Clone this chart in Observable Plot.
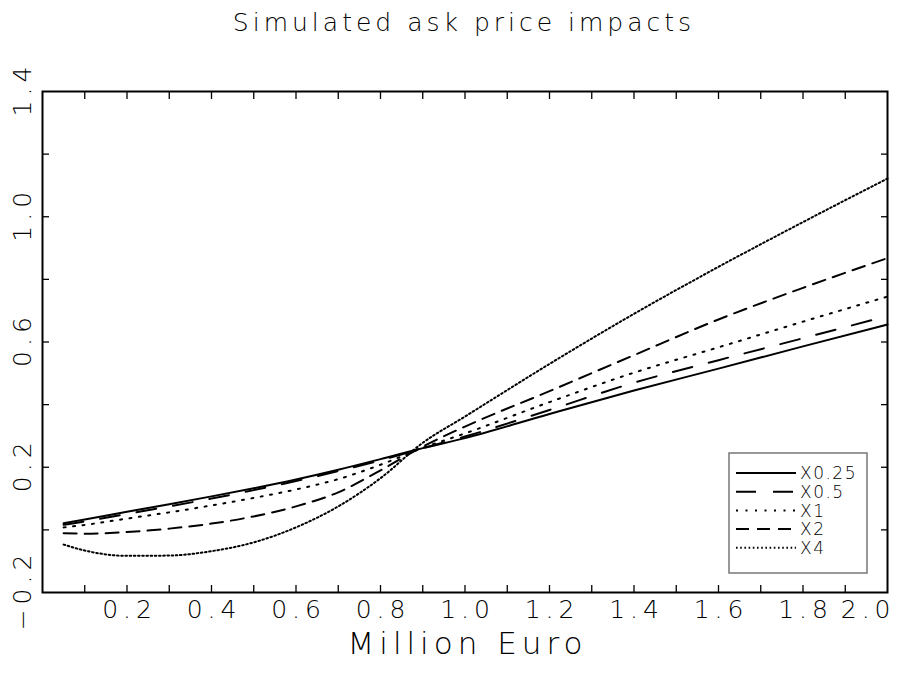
<!DOCTYPE html>
<html>
<head>
<meta charset="utf-8">
<script src="https://cdn.jsdelivr.net/npm/d3@7"></script>
<script src="https://cdn.jsdelivr.net/npm/@observablehq/plot@0.6"></script>
<style>
  body { margin: 0; background: #fff; }
  #wrap { position: relative; width: 914px; height: 683px; font-family: "DejaVu Sans", sans-serif; font-weight: 200; color: #000; }
  #title { position: absolute; left: 0; top: 0; width: 914px; height: 50px; text-align: center; font-size: 25px; line-height: 25px; padding-top: 10px; box-sizing: border-box; letter-spacing: 4px; text-indent: 14px; }
  #chart { position: absolute; left: 0; top: 50px; }
  #legend { position: absolute; left: 0; top: 0; pointer-events: none; }
  .xlab text, .ylab text { letter-spacing: 5px; }
  .xtitle text { letter-spacing: 5px; }
</style>
</head>
<body>
<div id="wrap">
  <div id="title">Simulated ask price impacts</div>
  <div id="chart"></div>
</div>
<script>
// Trade size in million euro
const amounts = [0.05, 0.1, 0.2, 0.3, 0.4, 0.5, 0.6, 0.7, 0.8, 0.9, 1.0, 1.2, 1.4, 1.6, 1.8, 2.0];

// Simulated ask price impact for each scaling of the shock
const impactX025 = [0.021, 0.033, 0.058, 0.082, 0.107, 0.133, 0.161, 0.192, 0.226, 0.261, 0.293, 0.370, 0.445, 0.515, 0.586, 0.656];
const impactX05  = [0.016, 0.027, 0.051, 0.075, 0.100, 0.127, 0.156, 0.188, 0.222, 0.261, 0.298, 0.383, 0.470, 0.542, 0.612, 0.683];
const impactX1   = [0.008, 0.016, 0.036, 0.056, 0.078, 0.102, 0.129, 0.162, 0.208, 0.262, 0.308, 0.408, 0.502, 0.583, 0.665, 0.745];
const impactX2   = [-0.011, -0.012, -0.007, 0.004, 0.020, 0.043, 0.075, 0.120, 0.190, 0.266, 0.330, 0.443, 0.558, 0.672, 0.773, 0.868];
const impactX4   = [-0.047, -0.066, -0.083, -0.082, -0.068, -0.040, 0.008, 0.075, 0.165, 0.278, 0.362, 0.530, 0.690, 0.840, 0.983, 1.122];

const seriesNames = ["X0.25", "X0.5", "X1", "X2", "X4"];
const seriesValues = [impactX025, impactX05, impactX1, impactX2, impactX4];

// Axis ticks and labels
const xMinorTicks = [0.1, 0.2, 0.3, 0.4, 0.5, 0.6, 0.7, 0.8, 0.9, 1.0, 1.1, 1.2, 1.3, 1.4, 1.5, 1.6, 1.7, 1.8, 1.9];
const xTickLabels = [0.2, 0.4, 0.6, 0.8, 1.0, 1.2, 1.4, 1.6, 1.8, 2.0];
const yMinorTicks = [0.0, 0.2, 0.4, 0.6, 0.8, 1.0, 1.2];
const yTickLabels = [-0.2, 0.2, 0.6, 1.0, 1.4];
const xTitle = "Million Euro";

// Line style per series
const dashes = {"X0.25": null, "X0.5": "20,17", "X1": "2,7.5", "X2": "13,8", "X4": "1.6,2.6"};

const rows = seriesNames.flatMap((name, s) =>
  amounts.map((x, i) => ({series: name, x, y: seriesValues[s][i]})));

const fmt = d => (d < 0 ? "\u2212" : "") + Math.abs(d).toFixed(1);
const font = '"DejaVu Sans", sans-serif';
const xMax = xTickLabels[xTickLabels.length - 1];

const chart = Plot.plot({
  width: 914,
  height: 633,
  marginLeft: 42,
  marginRight: 27,
  marginTop: 41,
  marginBottom: 91,
  style: {fontFamily: font, fontWeight: 200, background: "white", color: "black", overflow: "visible"},
  x: {domain: [0, 2], axis: null},
  y: {domain: [-0.2, 1.4], axis: null},
  marks: [
    ...seriesNames.map(name => Plot.line(rows.filter(d => d.series === name), {
      x: "x", y: "y", stroke: "black", strokeWidth: 2,
      strokeDasharray: dashes[name], curve: "monotone-x"
    })),
    // inward ticks on all four sides
    Plot.axisX(xMinorTicks, {anchor: "bottom", tickSize: -7, tickFormat: () => "", label: null, strokeWidth: 1.3}),
    Plot.axisX(xMinorTicks, {anchor: "top", tickSize: -7, tickFormat: () => "", label: null, strokeWidth: 1.3}),
    Plot.axisY(yMinorTicks, {anchor: "left", tickSize: -7, tickFormat: () => "", label: null, strokeWidth: 1.3}),
    Plot.axisY(yMinorTicks, {anchor: "right", tickSize: -7, tickFormat: () => "", label: null, strokeWidth: 1.3}),
    // x tick labels; the last one is kept inside the frame's right edge
    Plot.text(xTickLabels.filter(d => d < xMax), {x: d => d, frameAnchor: "bottom", text: fmt, dy: 8, dx: 2.5,
      lineAnchor: "top", fontSize: 25, className: "xlab"}),
    Plot.text([xMax], {x: d => d, frameAnchor: "bottom", text: fmt, dy: 8, dx: 8,
      textAnchor: "end", lineAnchor: "top", fontSize: 25, className: "xlab"}),
    // y tick labels, rotated
    Plot.text(yTickLabels, {y: d => d, frameAnchor: "left", text: fmt, rotate: -90, dx: -20, dy: -2.5,
      textAnchor: "middle", lineAnchor: "middle", fontSize: 25, className: "ylab"}),
    Plot.text([xTitle], {frameAnchor: "bottom", text: d => d, dy: 52, dx: 2.5, fontSize: 31,
      lineAnchor: "middle", className: "xtitle"}),
    Plot.frame({stroke: "black", strokeWidth: 2})
  ]
});
document.getElementById("chart").appendChild(chart);

// Legend box in the lower right of the plot area
const legend = d3.select("#wrap").append("svg")
  .attr("id", "legend").attr("width", 914).attr("height", 683);
legend.append("rect")
  .attr("x", 729).attr("y", 453).attr("width", 138).attr("height", 120)
  .attr("fill", "white").attr("stroke", "#777").attr("stroke-width", 1.5);
seriesNames.forEach((name, i) => {
  const y = 473 + i * 18.7;
  legend.append("line")
    .attr("x1", 736).attr("x2", 796).attr("y1", y).attr("y2", y)
    .attr("stroke", "black").attr("stroke-width", 2)
    .attr("stroke-dasharray", dashes[name]);
  legend.append("text")
    .attr("x", 800).attr("y", y).attr("dy", "0.36em")
    .attr("font-family", font).attr("font-weight", 200).attr("font-size", 17)
    .attr("letter-spacing", 1.5)
    .text(name);
});
</script>
</body>
</html>
